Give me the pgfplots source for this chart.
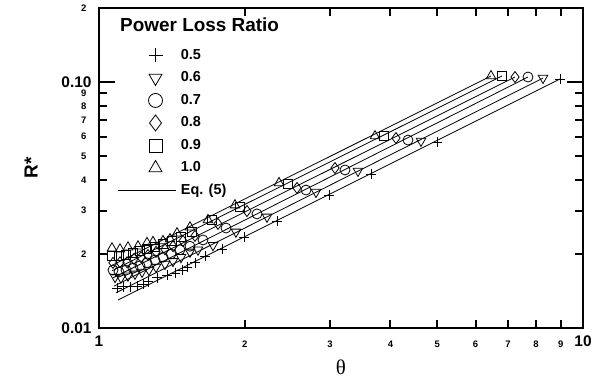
\documentclass[border=0pt]{standalone}
\usepackage{fontspec}
\setmainfont{Liberation Sans}
\newfontfamily\serifgr{Liberation Serif}
\usepackage{pgfplots}
\pgfplotsset{compat=1.18}
\newcommand{\bigtl}{\fontsize{15.5}{15.5}\selectfont\bfseries}
\newcommand{\smalltl}{\fontsize{9.5}{9.5}\selectfont\bfseries}
\pgfplotsset{
  legmark/.style={legend image code/.code={\draw[mark repeat=2,mark phase=2,##1,mark size=#1] plot coordinates {(0bp,0bp)(38bp,0bp)(58bp,0bp)};}},
  legline/.style={legend image code/.code={\draw[##1] (0bp,0bp) -- (58bp,0bp);}},
}
\begin{document}
\begin{tikzpicture}
\begin{axis}[
  name=ax,
  scale only axis,
  width=484bp, height=320bp,
  xmode=log, ymode=log,
  xmin=1, xmax=10, ymin=0.01, ymax=0.2,
  axis line style={line width=2.4bp},
  tick align=inside,
  tick style={line width=2bp, black},
  minor tick style={draw=none},
  xtick={1,10}, xticklabels={1,10},
  ytick={0.01,0.1}, yticklabels={0.01,0.10},
  major tick length=16bp,
  xticklabel style={font=\bigtl, yshift=-4bp},
  yticklabel style={font=\bigtl, xshift=-4bp},
  extra x ticks={2,3,4,5,6,7,8,9},
  extra x tick labels={2,3,4,5,6,7,8,9},
  extra x tick style={major tick length=8bp, xticklabel style={font=\smalltl, yshift=-5bp}},
  extra y ticks={0.02,0.03,0.04,0.05,0.06,0.07,0.08,0.09,0.2},
  extra y tick labels={2,3,4,5,6,7,8,9,2},
  extra y tick style={major tick length=8bp, yticklabel style={font=\smalltl, xshift=-5bp}},
  xlabel={\serifgr\fontsize{21}{21}\selectfont θ},
  ylabel={\fontsize{19}{19}\selectfont\bfseries R*},
  xlabel style={yshift=-6bp},
  ylabel style={yshift=17bp},
  legend style={draw=none, fill=none, at={(0.037,0.8875)}, anchor=north west,
    font=\fontsize{14.5}{14.5}\selectfont\bfseries, inner sep=0pt, row sep=0pt,
    nodes={inner ysep=5bp, inner xsep=5bp, text height=10bp, text depth=2.5bp}},
  legend cell align=left,
  every axis plot/.append style={black, line width=0.8bp},
]
% + 0.5
\addplot[only marks, mark=+, mark size=5bp, legmark=7bp]
coordinates {
(1.0894,0.0145)(1.1210,0.0147)(1.1589,0.0147)(1.1982,0.0148)(1.2329,0.0151)(1.2625,0.0154)
(1.3178,0.0160)(1.3820,0.0164)(1.4356,0.0167)(1.4842,0.0172)(1.5199,0.0177)(1.5789,0.0184)
(1.6558,0.0196)(1.7953,0.0209)(1.9934,0.0234)(2.3322,0.0272)(2.9868,0.0347)(3.6473,0.0423)
(4.9929,0.0570)(8.9638,0.1029)};
\addlegendentry{0.5}
% triangle down 0.6
\addplot[only marks, mark=triangle, mark size=5.5bp, mark options={rotate=180}, legmark=7.5bp]
coordinates {
(1.0791,0.0161)(1.1103,0.0160)(1.1479,0.0163)(1.1868,0.0166)(1.2270,0.0169)(1.2685,0.0172)
(1.3115,0.0177)(1.3689,0.0182)(1.4220,0.0187)(1.4771,0.0194)(1.5418,0.0204)(1.6016,0.0208)
(1.7201,0.0217)(1.9189,0.0246)(2.2239,0.0283)(2.8077,0.0357)(3.4286,0.0435)(4.6269,0.0576)
(8.2676,0.1038)};
\addlegendentry{0.6}
% circle 0.7
\addplot[only marks, mark=o, mark size=5bp, legmark=7bp]
coordinates {
(1.0689,0.0172)(1.0998,0.0169)(1.1371,0.0172)(1.1756,0.0175)(1.2154,0.0179)(1.2565,0.0184)
(1.3053,0.0189)(1.3559,0.0194)(1.4085,0.0200)(1.4701,0.0208)(1.5418,0.0215)(1.6401,0.0228)
(1.8298,0.0255)(2.1206,0.0291)(2.6772,0.0364)(3.2230,0.0439)(4.3494,0.0581)(7.6981,0.1048)};
\addlegendentry{0.7}
% diamond 0.8
\addplot[only marks, mark=diamond, mark size=5.5bp, legmark=8bp]
coordinates {
(1.0689,0.0184)(1.1051,0.0185)(1.1425,0.0185)(1.1812,0.0191)(1.2212,0.0194)(1.2625,0.0198)
(1.3115,0.0204)(1.3689,0.0209)(1.4220,0.0215)(1.4912,0.0226)(1.5789,0.0237)(1.7615,0.0265)
(2.0221,0.0299)(2.5650,0.0371)(3.0733,0.0447)(4.1080,0.0592)(7.2367,0.1048)};
\addlegendentry{0.8}
% square 0.9
\addplot[only marks, mark=square, mark size=4.5bp, legmark=6.5bp]
coordinates {
(1.0638,0.0196)(1.0998,0.0196)(1.1371,0.0198)(1.1756,0.0202)(1.2154,0.0206)(1.2565,0.0209)
(1.3053,0.0213)(1.3559,0.0220)(1.4152,0.0226)(1.4771,0.0234)(1.5565,0.0246)(1.7119,0.0275)
(1.9558,0.0310)(2.4575,0.0385)(3.8800,0.0603)(6.8026,0.1058)};
\addlegendentry{0.9}
% triangle up 1.0
\addplot[only marks, mark=triangle, mark size=5.5bp, legmark=7.5bp]
coordinates {
(1.0638,0.0211)(1.1051,0.0209)(1.1479,0.0213)(1.2039,0.0215)(1.2565,0.0222)(1.2929,0.0224)
(1.3559,0.0226)(1.4018,0.0230)(1.4493,0.0243)(1.5418,0.0257)(1.6796,0.0275)(1.9098,0.0316)
(2.3545,0.0389)(3.7174,0.0603)(6.4551,0.1058)};
\addlegendentry{1.0}
% Eq. (5) lines
\addplot[no marks, legline]
coordinates {(1.0946,0.0130)(8.964,0.1029)};
\addlegendentry{Eq. (5)}
\addplot[no marks, forget plot] coordinates {(1.0842,0.0139)(8.268,0.1038)};
\addplot[no marks, forget plot] coordinates {(1.0740,0.0148)(7.698,0.1048)};
\addplot[no marks, forget plot] coordinates {(1.0689,0.0160)(7.237,0.1048)};
\addplot[no marks, forget plot] coordinates {(1.0638,0.0171)(6.803,0.1058)};
\addplot[no marks, forget plot] coordinates {(1.0588,0.0179)(6.455,0.1058)};
\node[anchor=west, inner sep=0pt, font=\fontsize{19}{19}\selectfont\bfseries] at (rel axis cs:0.0434,0.947) {Power Loss Ratio};
\end{axis}
\pgfresetboundingbox
\path[use as bounding box] ([xshift=-99bp,yshift=-55bp]ax.south west) rectangle ([xshift=15bp,yshift=8bp]ax.north east);
\end{tikzpicture}
\end{document}
